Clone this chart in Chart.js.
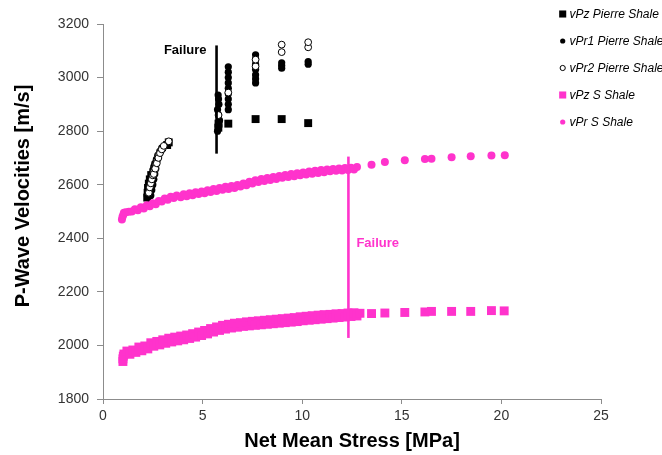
<!DOCTYPE html>
<html>
<head>
<meta charset="utf-8">
<title>P-Wave Velocities vs Net Mean Stress</title>
<script src="https://cdn.jsdelivr.net/npm/chart.js@4.4.1/dist/chart.umd.min.js"></script>
<style>
  html, body { margin: 0; padding: 0; background: #ffffff; }
  #wrap { width: 662px; height: 455px; position: relative; }
</style>
</head>
<body>
<div id="wrap"><canvas id="chart" width="662" height="455"></canvas></div>
<script>
// Axis ranges and tick spacing
const xTicks = [0, 5, 10, 15, 20, 25];
const yTicks = [1800, 2000, 2200, 2400, 2600, 2800, 3000, 3200];

// Pierre Shale, vPz (net mean stress MPa, velocity m/s)
const pierreVpzX = [2.22, 2.24, 2.26, 2.3, 2.35, 2.42, 3.22, 3.3, 5.79, 5.8, 6.29, 7.66, 8.97, 10.3];
const pierreVpzY = [2552, 2570, 2588, 2604, 2620, 2636, 2748, 2758, 2813, 2828, 2828, 2845, 2845, 2830];

// Pierre Shale, vPr1
const pierreVpr1X = [2.25, 2.28, 2.3, 2.32, 2.35, 2.4, 2.45, 2.5, 2.55, 2.6, 2.68, 2.75, 2.85, 2.95, 3.2,
  2.4, 2.45, 2.5, 2.55, 2.6, 2.65,
  5.75, 5.8, 5.85, 5.8, 5.75, 5.82, 5.8, 5.78,
  6.29, 6.29, 6.29, 6.29, 6.29, 6.29, 6.29, 6.29, 6.29,
  7.66, 7.66, 7.66, 7.66, 7.66, 7.66, 7.66,
  8.97, 8.97, 8.97, 10.3, 10.3];
const pierreVpr1Y = [2550, 2565, 2580, 2595, 2610, 2625, 2640, 2655, 2668, 2680, 2695, 2710, 2725, 2738, 2752,
  2560, 2580, 2600, 2620, 2640, 2660,
  2800, 2820, 2840, 2860, 2880, 2900, 2920, 2935,
  2880, 2900, 2920, 2940, 2960, 2980, 3000, 3020, 3040,
  2980, 2995, 3010, 3030, 3050, 3070, 3085,
  3035, 3045, 3055, 3050, 3060];

// Pierre Shale, vPr2
const pierreVpr2X = [2.3, 2.35, 2.4, 2.45, 2.5, 2.55, 2.6, 2.65, 2.7, 2.75, 2.8, 2.9, 3.0, 3.3,
  2.55, 2.62, 2.7, 2.78, 2.86, 2.95, 3.05,
  5.8, 6.29, 7.66, 7.66, 8.97, 8.97, 10.3, 10.3];
const pierreVpr2Y = [2570, 2590, 2605, 2620, 2635, 2650, 2662, 2675, 2688, 2700, 2712, 2725, 2735, 2762,
  2640, 2660, 2680, 2700, 2718, 2732, 2745,
  2860, 2944, 3042, 3067, 3095, 3123, 3113, 3132];

// S Shale, vPz
const sVpzX = [1.0, 1.0, 1.02, 1.05, 1.2, 1.35, 1.5, 1.65, 1.8, 1.95, 2.1, 2.25, 2.4, 2.55, 2.7, 2.85,
  3.0, 3.15, 3.3, 3.45, 3.6, 3.75, 3.9, 4.05, 4.2, 4.35, 4.5, 4.65, 4.8, 4.95, 5.1, 5.25, 5.4, 5.55,
  5.7, 5.85, 6.0, 6.15, 6.3, 6.45, 6.6, 6.75, 6.9, 7.05, 7.2, 7.35, 7.5, 7.65, 7.8, 7.95, 8.1, 8.25,
  8.4, 8.55, 8.7, 8.85, 9.0, 9.15, 9.3, 9.45, 9.6, 9.75, 9.9, 10.05, 10.2, 10.35, 10.5, 10.65, 10.8,
  10.95, 11.1, 11.25, 11.4, 11.55, 11.7, 11.85, 12.0, 12.15, 12.3, 12.45, 12.6, 12.75, 12.9,
  13.48, 14.15, 15.15, 16.16, 16.49, 17.5, 18.46, 19.5, 20.14];
const sVpzY = [1940, 1950, 1960, 1968, 1979, 1967, 1983, 1974, 1994, 1980, 1998, 1987, 2010, 1997, 2015, 2002,
  2021, 2008, 2027, 2013, 2031, 2017, 2035, 2021, 2039, 2026, 2044, 2031, 2050, 2037, 2056, 2043, 2063, 2050,
  2069, 2056, 2075, 2061, 2079, 2065, 2083, 2068, 2085, 2071, 2088, 2073, 2090, 2075, 2092, 2077, 2094, 2079,
  2096, 2081, 2098, 2083, 2100, 2085, 2102, 2087, 2104, 2089, 2107, 2092, 2109, 2094, 2111, 2096, 2113,
  2098, 2115, 2100, 2116, 2102, 2118, 2104, 2119, 2106, 2121, 2108, 2122, 2110, 2120,
  2119, 2121, 2123, 2125, 2127, 2127, 2127, 2130, 2129];

// S Shale, vPr
const sVprX = [0.95, 0.98, 1.02, 1.05, 1.15, 1.3, 1.45, 1.6, 1.75, 1.9, 2.05, 2.2, 2.35, 2.5, 2.65, 2.8,
  2.95, 3.1, 3.25, 3.4, 3.55, 3.7, 3.9, 4.05, 4.2, 4.35, 4.5, 4.65, 4.8, 4.95, 5.1, 5.25, 5.4, 5.55,
  5.7, 5.85, 6.0, 6.15, 6.3, 6.45, 6.6, 6.75, 6.9, 7.05, 7.2, 7.35, 7.5, 7.65, 7.8, 7.95, 8.1, 8.25,
  8.4, 8.55, 8.7, 8.85, 9.0, 9.15, 9.3, 9.45, 9.6, 9.75, 9.9, 10.05, 10.2, 10.35, 10.5, 10.65, 10.8,
  10.95, 11.1, 11.25, 11.4, 11.55, 11.7, 11.85, 12.0, 12.15, 12.3, 12.45, 12.6, 12.75,
  13.48, 14.15, 15.15, 16.16, 16.49, 17.5, 18.46, 19.5, 20.17];
const sVprY = [2470, 2480, 2488, 2495, 2497, 2499, 2500, 2508, 2505, 2516, 2511, 2523, 2520, 2531, 2527, 2539,
  2537, 2549, 2544, 2555, 2550, 2560, 2553, 2564, 2557, 2568, 2561, 2572, 2565, 2575, 2568, 2579, 2573, 2584,
  2577, 2588, 2581, 2592, 2584, 2595, 2588, 2599, 2593, 2605, 2598, 2611, 2605, 2617, 2610, 2621, 2614, 2625,
  2618, 2629, 2621, 2633, 2626, 2636, 2629, 2640, 2632, 2643, 2635, 2646, 2638, 2649, 2641, 2652, 2644,
  2655, 2647, 2657, 2650, 2659, 2652, 2661, 2653, 2662, 2655, 2663, 2657, 2666,
  2675, 2685, 2691, 2696, 2697, 2703, 2706, 2709, 2710];

// Failure markers: stress level and the vertical extent of each marker line
const pierreFailureX = [5.7, 5.7];
const pierreFailureY = [2716, 3120];
const sFailureX = [12.32, 12.32];
const sFailureY = [2028, 2705];

const PINK = '#ff33cc';

function pts(xs, ys) { return xs.map((x, i) => ({ x: x, y: ys[i] })); }

// Legend drawn in the top-right corner, over the plot area
const overlayLegend = {
  id: 'overlayLegend',
  afterDraw(chart) {
    const ctx = chart.ctx;
    const items = chart.data.datasets.filter(d => !d.skipLegend);
    ctx.save();
    ctx.font = 'italic 12px "Liberation Sans", Arial, sans-serif';
    ctx.textBaseline = 'middle';
    ctx.textAlign = 'left';
    items.forEach((d, i) => {
      const y = 14 + i * 27;
      const style = {
        pointStyle: d.pointStyle,
        radius: d.pointStyle === 'rect' ? 5 : 2.6,
        borderWidth: d.borderWidth || 0
      };
      ctx.fillStyle = d.backgroundColor;
      ctx.strokeStyle = d.borderColor;
      ctx.lineWidth = d.borderWidth || 0.001;
      Chart.helpers.drawPoint(ctx, style, 562.7, y);
      ctx.fillStyle = '#000';
      ctx.fillText(d.label, 569.5, y + 0.5);
    });
    ctx.restore();
  }
};

// Axis titles and failure annotations
const annotations = {
  id: 'annotations',
  afterDraw(chart) {
    const ctx = chart.ctx;
    const xs = chart.scales.x, ys = chart.scales.y;
    ctx.save();
    ctx.fillStyle = '#000';
    ctx.textAlign = 'center';
    ctx.textBaseline = 'middle';
    ctx.font = 'bold 20px "Liberation Sans", Arial, sans-serif';
    ctx.fillText('Net Mean Stress [MPa]', (chart.chartArea.left + chart.chartArea.right) / 2, 441);
    ctx.save();
    ctx.translate(23, 196);
    ctx.rotate(-Math.PI / 2);
    ctx.fillText('P-Wave Velocities [m/s]', 0, 0);
    ctx.restore();

    ctx.font = 'bold 13px "Liberation Sans", Arial, sans-serif';
    ctx.textAlign = 'right';
    ctx.fillText('Failure', xs.getPixelForValue(pierreFailureX[0]) - 10, ys.getPixelForValue(3102));
    ctx.fillStyle = PINK;
    ctx.textAlign = 'left';
    ctx.fillText('Failure', xs.getPixelForValue(sFailureX[0]) + 8, ys.getPixelForValue(2379));
    ctx.restore();
  }
};

new Chart(document.getElementById('chart'), {
  type: 'scatter',
  data: {
    datasets: [
      {
        label: 'vPz Pierre Shale', data: pts(pierreVpzX, pierreVpzY), order: 5,
        pointStyle: 'rect', pointRadius: 5.6, backgroundColor: '#000', borderColor: '#000', borderWidth: 0
      },
      {
        label: 'vPr1 Pierre Shale', data: pts(pierreVpr1X, pierreVpr1Y), order: 4,
        pointStyle: 'circle', pointRadius: 3.6, backgroundColor: '#000', borderColor: '#000', borderWidth: 0
      },
      {
        label: 'vPr2 Pierre Shale', data: pts(pierreVpr2X, pierreVpr2Y), order: 3,
        pointStyle: 'circle', pointRadius: 3.4, backgroundColor: '#fff', borderColor: '#000', borderWidth: 1
      },
      {
        label: 'vPz S Shale', data: pts(sVpzX, sVpzY), order: 2,
        pointStyle: 'rect', pointRadius: 6.3, backgroundColor: PINK, borderColor: PINK, borderWidth: 0
      },
      {
        label: 'vPr S Shale', data: pts(sVprX, sVprY), order: 1,
        pointStyle: 'circle', pointRadius: 4, backgroundColor: PINK, borderColor: PINK, borderWidth: 0
      },
      {
        label: 'Failure', skipLegend: true, data: pts(pierreFailureX, pierreFailureY), order: 0,
        showLine: true, pointRadius: 0, borderColor: '#000', borderWidth: 2.6, backgroundColor: '#000'
      },
      {
        label: 'Failure', skipLegend: true, data: pts(sFailureX, sFailureY), order: 0,
        showLine: true, pointRadius: 0, borderColor: PINK, borderWidth: 2.6, backgroundColor: PINK
      }
    ]
  },
  options: {
    responsive: false,
    animation: false,
    layout: { padding: { top: 24, right: 61, left: 0, bottom: 0 } },
    plugins: {
      legend: { display: false },
      tooltip: { enabled: false }
    },
    scales: {
      x: {
        type: 'linear',
        min: xTicks[0], max: xTicks[xTicks.length - 1],
        afterBuildTicks: s => { s.ticks = xTicks.map(v => ({ value: v })); },
        afterFit: s => { s.height = 56; },
        border: { display: true, color: '#8c8c8c', width: 1 },
        grid: { drawOnChartArea: false, drawTicks: true, tickLength: 5, color: '#8c8c8c' },
        ticks: {
          padding: 4, color: '#333',
          font: { family: '"Liberation Sans", Arial, sans-serif', size: 14 },
          maxRotation: 0,
          callback: v => String(v)
        }
      },
      y: {
        type: 'linear',
        min: yTicks[0], max: yTicks[yTicks.length - 1],
        afterBuildTicks: s => { s.ticks = yTicks.map(v => ({ value: v })); },
        afterFit: s => { s.width = 103; },
        border: { display: true, color: '#8c8c8c', width: 1 },
        grid: { drawOnChartArea: false, drawTicks: true, tickLength: 6, color: '#8c8c8c' },
        ticks: {
          padding: 8, color: '#333',
          font: { family: '"Liberation Sans", Arial, sans-serif', size: 14 },
          callback: v => String(v)
        }
      }
    }
  },
  plugins: [overlayLegend, annotations]
});
</script>
</body>
</html>
